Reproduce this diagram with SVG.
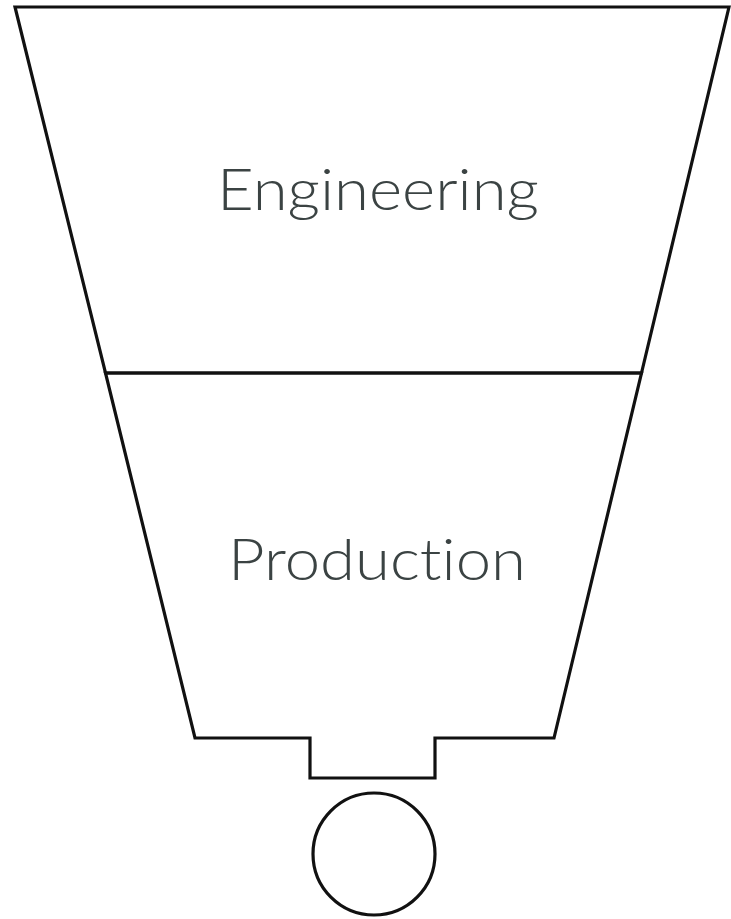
<svg xmlns="http://www.w3.org/2000/svg" width="731" height="919" viewBox="0 0 731 919">
<style>
.shape{fill:none;stroke:#111;stroke-width:3.2;stroke-linejoin:miter}
.lbl{font-family:"Lato","Open Sans","Liberation Sans",sans-serif;font-weight:300;font-size:58px;fill:#3b4343;text-anchor:middle;font-variant-ligatures:none;font-feature-settings:"liga" 0,"dlig" 0}
</style>
<rect width="731" height="919" fill="#fff"/>
<g id="engineering">
<path class="shape" d="M15,7 L729,7 L641.5,373 L105.5,373 Z"/>
<text class="lbl" x="378" y="210" textLength="322" lengthAdjust="spacingAndGlyphs">Engineering</text>
</g>
<g id="production">
<path class="shape" d="M105.5,373 L641.5,373 L554,738 L435,738 L435,778 L310,778 L310,738 L195,738 Z"/>
<text class="lbl" x="377" y="580" textLength="298" lengthAdjust="spacingAndGlyphs">Production</text>
</g>
<g id="output">
<circle class="shape" cx="374" cy="854" r="61"/>
</g>
<g id="connectors"></g>
</svg>
